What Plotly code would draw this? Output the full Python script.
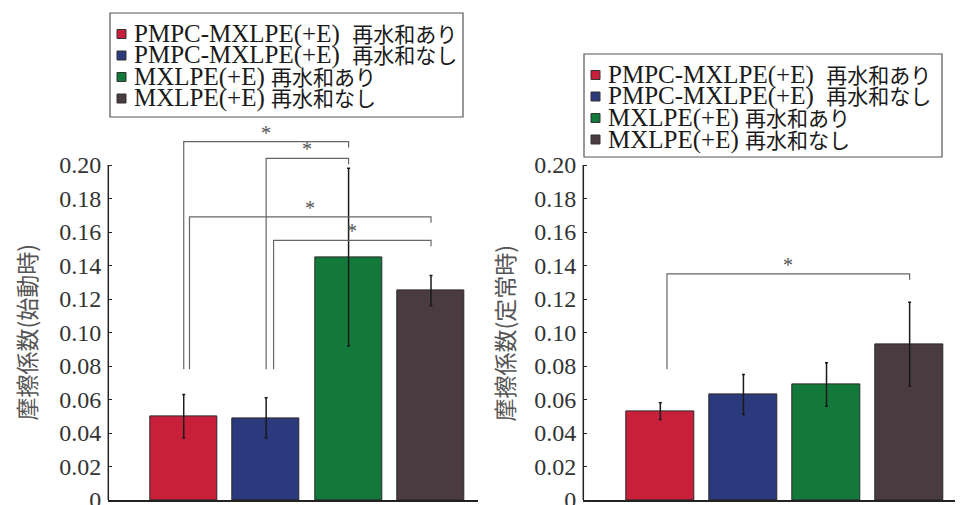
import plotly.graph_objects as go

W, H = 963, 505

# --- data -----------------------------------------------------------------
group_materials = ["PMPC-MXLPE(+E)", "PMPC-MXLPE(+E)", "MXLPE(+E)", "MXLPE(+E)"]
group_conditions = ["再水和あり", "再水和なし", "再水和あり", "再水和なし"]
group_colors = ["#c81f3b", "#2b3a7c", "#13793b", "#4a3b40"]
group_positions = [0, 1, 2, 3]

# friction coefficient at start-up (mean, SD)
startup_mean = [0.050, 0.049, 0.145, 0.125]
startup_sd = [0.013, 0.012, 0.053, 0.009]

# friction coefficient in steady state (mean, SD)
steady_mean = [0.053, 0.063, 0.069, 0.093]
steady_sd = [0.005, 0.012, 0.013, 0.025]

# significant pairs (group indices) and bracket heights
startup_pairs = [(0, 2), (1, 2), (0, 3), (1, 3)]
startup_levels = [0.214, 0.204, 0.169, 0.155]
steady_pairs = [(0, 3)]
steady_levels = [0.135]

tick_values = [0, 0.02, 0.04, 0.06, 0.08, 0.10, 0.12, 0.14, 0.16, 0.18, 0.20]
tick_labels = ["0", "0.02", "0.04", "0.06", "0.08", "0.10", "0.12",
               "0.14", "0.16", "0.18", "0.20"]

y_titles = ["摩擦係数(始動時)", "摩擦係数(定常時)"]

# --- layout helpers ---------------------------------------------------------
def fx(p):
    return p / W


def fy(p):
    return (H - p) / H


SERIF = "Liberation Serif, 'Noto Sans CJK JP', serif"
CJK = "'Noto Sans CJK JP', sans-serif"
INK = "#222222"
Y_TOP = 0.235

panels = [
    dict(xa="x", ya="y", mean=startup_mean, sd=startup_sd,
         pairs=startup_pairs, levels=startup_levels, leg_shift=[0.0, 0.0, 0.07, 0.09],
         xdom=[fx(108.3), fx(478)], xrange=[-0.915, 3.57],
         title_x=26, legend_box=(110, 13, 463, 117)),
    dict(xa="x2", ya="y2", mean=steady_mean, sd=steady_sd,
         pairs=steady_pairs, levels=steady_levels, leg_shift=[0.08],
         xdom=[fx(583.3), fx(955)], xrange=[-0.927, 3.546],
         title_x=504, legend_box=(584, 54, 942, 157)),
]

fig = go.Figure()
shapes = []
annotations = []

for k, p in enumerate(panels):
    fig.add_trace(go.Bar(
        x=group_positions, y=p["mean"], xaxis=p["xa"], yaxis=p["ya"],
        width=0.815,
        marker=dict(color=group_colors, line=dict(color="#2a2a2a", width=1)),
        error_y=dict(type="data", array=p["sd"], visible=True,
                     color="#1a1a1a", thickness=1.5, width=1.5),
        showlegend=False, hoverinfo="y",
    ))

    # vertical axis line from 0 to 0.20
    shapes.append(dict(type="line", xref="paper", yref=p["ya"],
                       x0=p["xdom"][0], x1=p["xdom"][0], y0=0, y1=tick_values[-1],
                       line=dict(color=INK, width=1.5)))

    # significance brackets and stars
    for (a, b), lvl, sh in zip(p["pairs"], p["levels"], p["leg_shift"]):
        xl = group_positions[a] + sh
        xr = group_positions[b]
        path = f"M {xl},0.078 L {xl},{lvl} L {xr},{lvl} L {xr},{lvl - 0.0035}"
        shapes.append(dict(type="path", xref=p["xa"], yref=p["ya"], path=path,
                           line=dict(color="#666666", width=1.2)))
        annotations.append(dict(x=(xl + xr) / 2, y=lvl, xref=p["xa"], yref=p["ya"],
                                text="*", showarrow=False, yanchor="middle",
                                yshift=9, font=dict(family=SERIF, size=20, color="#555555")))

    # y-axis title
    annotations.append(dict(x=fx(p["title_x"]), y=0.1, xref="paper", yref=p["ya"],
                            text=y_titles[k], textangle=-90, showarrow=False,
                            xanchor="center", yanchor="middle",
                            font=dict(family=CJK, size=23, color="#555555")))

    # legend box
    bx0, by0, bx1, by1 = p["legend_box"]
    shapes.append(dict(type="rect", xref="paper", yref="paper",
                       x0=fx(bx0), x1=fx(bx1), y0=fy(by1), y1=fy(by0),
                       line=dict(color="#555555", width=1.2), fillcolor="white"))
    for i in range(len(group_materials)):
        ry = by0 + 21 + 21.5 * i
        shapes.append(dict(type="rect", xref="paper", yref="paper",
                           x0=fx(bx0 + 7), x1=fx(bx0 + 16),
                           y0=fy(ry + 4.5), y1=fy(ry - 4.5),
                           line=dict(color="#333333", width=1), fillcolor=group_colors[i]))
        gap = "\u00a0\u00a0" if group_materials[i].startswith("PMPC") else "\u00a0"
        annotations.append(dict(
            x=fx(bx0 + 22), y=fy(ry), xref="paper", yref="paper",
            xanchor="left", yanchor="middle", showarrow=False,
            text=group_materials[i] + gap
            + f"<span style='font-size:21px'>{group_conditions[i]}</span>",
            font=dict(family=SERIF, size=25, color="#1a1a1a")))

ydom = [fy(500), fy(500 - Y_TOP * 1675)]
yaxis_common = dict(
    domain=ydom, range=[0, Y_TOP], tickmode="array",
    tickvals=tick_values, ticktext=tick_labels,
    ticks="inside", ticklen=4, tickwidth=1.2, tickcolor=INK,
    showline=False, showgrid=False, zeroline=False, automargin=False,
    ticklabelstandoff=6, ticklabeloverflow="allow",
    tickfont=dict(family=SERIF, size=24, color="#333333"),
)
xaxis_common = dict(
    showline=True, linecolor=INK, linewidth=1.5, showticklabels=False,
    ticks="", showgrid=False, zeroline=False, automargin=False,
)

fig.update_layout(
    width=W, height=H,
    margin=dict(l=0, r=0, t=0, b=0),
    paper_bgcolor="white", plot_bgcolor="white",
    xaxis=dict(xaxis_common, domain=panels[0]["xdom"], range=panels[0]["xrange"], anchor="y"),
    yaxis=dict(yaxis_common, anchor="x"),
    xaxis2=dict(xaxis_common, domain=panels[1]["xdom"], range=panels[1]["xrange"], anchor="y2"),
    yaxis2=dict(yaxis_common, anchor="x2"),
    shapes=shapes,
    annotations=annotations,
    bargap=0,
    showlegend=False,
)

fig.write_html("out.html")
